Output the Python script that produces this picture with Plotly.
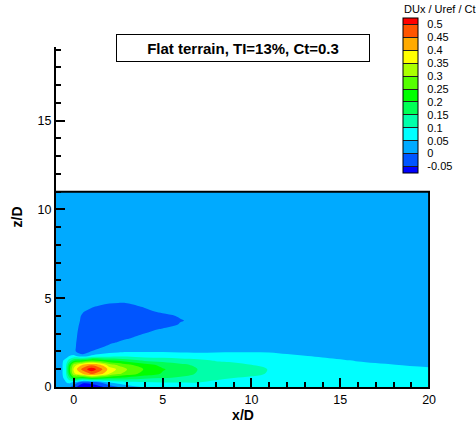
import numpy as np
import plotly.graph_objects as go

# ---- grid (x/D stations, z/D heights) ----
x_stations = [-1, -0.5, -0.25, 0, 0.5, 1, 1.5, 2, 2.5, 3, 4, 5, 6, 7, 8, 9, 10, 11, 12, 14, 16, 18, 20]
z_levels = [0, 0.25, 0.5, 0.75, 1.0, 1.25, 1.5, 1.75, 2.0, 2.25, 2.5, 2.75, 3.0,
            3.25, 3.5, 3.75, 4.0, 4.25, 4.5, 4.75, 5.0, 5.5, 7.0, 11.0]

# ---- DUx/Uref/Ct vertical profiles, one per x station ----
p_xm100 = [0.02, 0.02, 0.025, 0.03, 0.03, 0.03, 0.025, 0.02, 0.015, 0.015, 0.015, 0.015,
           0.015, 0.015, 0.015, 0.015, 0.015, 0.015, 0.015, 0.015, 0.015, 0.015, 0.015, 0.015]
p_xm050 = [0.02, 0.045, 0.055, 0.057, 0.057, 0.057, 0.055, 0.035, 0.015, 0.015, 0.015, 0.015,
           0.015, 0.015, 0.015, 0.015, 0.015, 0.015, 0.015, 0.015, 0.015, 0.015, 0.015, 0.015]
p_xm025 = [0.01, 0.06, 0.14, 0.21, 0.23, 0.2, 0.12, 0.05, 0.015, 0.015, 0.015, 0.015,
           0.015, 0.015, 0.015, 0.015, 0.015, 0.015, 0.015, 0.015, 0.015, 0.015, 0.015, 0.015]
p_x000 = [-0.03, 0.04, 0.22, 0.34, 0.36, 0.32, 0.18, 0.06, 0.012, 0.012, 0.012, 0.012,
          0.012, 0.012, 0.012, 0.012, 0.012, 0.013, 0.014, 0.015, 0.015, 0.015, 0.015, 0.015]
p_x050 = [-0.09, -0.04, 0.2, 0.4, 0.47, 0.4, 0.2, 0.025, -0.038, -0.038, -0.031, -0.023,
          -0.018, -0.013, -0.0087, -0.0051, -0.003, 0.002, 0.01, 0.012, 0.014, 0.015, 0.015, 0.015]
p_x100 = [-0.09, -0.03, 0.24, 0.46, 0.53, 0.44, 0.24, 0.06, 0.004, -0.03, -0.03, -0.028,
          -0.025, -0.022, -0.02, -0.017, -0.012, -0.008, 0.002, 0.01, 0.013, 0.015, 0.015, 0.015]
p_x150 = [-0.06, 0.0, 0.22, 0.42, 0.47, 0.4, 0.22, 0.075, 0.02, -0.005, -0.025, -0.028,
          -0.028, -0.028, -0.026, -0.024, -0.02, -0.015, -0.006, 0.009, 0.013, 0.015, 0.015, 0.015]
p_x200 = [-0.03, 0.05, 0.2, 0.35, 0.38, 0.32, 0.2, 0.08, 0.035, 0.01, -0.007, -0.025,
          -0.03, -0.03, -0.03, -0.03, -0.028, -0.024, -0.015, 0.004, 0.012, 0.015, 0.015, 0.015]
p_x250 = [0.0, 0.07, 0.19, 0.31, 0.34, 0.29, 0.19, 0.085, 0.04, 0.02, 0.003, -0.012,
          -0.025, -0.028, -0.028, -0.028, -0.028, -0.026, -0.02, 0.001, 0.012, 0.015, 0.015, 0.015]
p_x300 = [0.03, 0.08, 0.18, 0.28, 0.30, 0.26, 0.17, 0.09, 0.045, 0.025, 0.012, -0.003,
          -0.02, -0.025, -0.025, -0.025, -0.025, -0.022, -0.015, 0.002, 0.012, 0.015, 0.015, 0.015]
p_x400 = [0.055, 0.09, 0.16, 0.23, 0.245, 0.22, 0.14, 0.08, 0.045, 0.03, 0.02, 0.012,
          0.001, -0.015, -0.02, -0.02, -0.018, -0.01, 0.0025, 0.01, 0.013, 0.015, 0.015, 0.015]
p_x500 = [0.065, 0.1, 0.15, 0.195, 0.205, 0.185, 0.13, 0.08, 0.045, 0.03, 0.022, 0.017,
          0.012, 0.005, -0.02, -0.02, -0.012, 0.008, 0.012, 0.014, 0.015, 0.015, 0.015, 0.015]
p_x600 = [0.07, 0.1, 0.14, 0.17, 0.175, 0.16, 0.12, 0.075, 0.042, 0.028, 0.02, 0.016,
          0.013, 0.01, 0.004, -0.003, 0.0045, 0.01, 0.013, 0.015, 0.015, 0.015, 0.015, 0.015]
p_x700 = [0.072, 0.1, 0.13, 0.145, 0.149, 0.14, 0.11, 0.072, 0.042, 0.028, 0.02, 0.017,
          0.015, 0.014, 0.013, 0.012, 0.013, 0.014, 0.015, 0.015, 0.015, 0.015, 0.015, 0.015]
p_x800 = [0.08, 0.092, 0.108, 0.128, 0.132, 0.122, 0.095, 0.07, 0.045, 0.028, 0.02, 0.015,
          0.015, 0.015, 0.015, 0.015, 0.015, 0.015, 0.015, 0.015, 0.015, 0.015, 0.015, 0.015]
p_x900 = [0.08, 0.088, 0.1, 0.115, 0.12, 0.112, 0.09, 0.068, 0.046, 0.03, 0.02, 0.015,
          0.015, 0.015, 0.015, 0.015, 0.015, 0.015, 0.015, 0.015, 0.015, 0.015, 0.015, 0.015]
p_x1000 = [0.078, 0.085, 0.096, 0.106, 0.108, 0.1, 0.086, 0.066, 0.047, 0.03, 0.02, 0.015,
           0.015, 0.015, 0.015, 0.015, 0.015, 0.015, 0.015, 0.015, 0.015, 0.015, 0.015, 0.015]
p_x1100 = [0.077, 0.082, 0.09, 0.098, 0.099, 0.093, 0.082, 0.064, 0.046, 0.03, 0.02, 0.015,
           0.015, 0.015, 0.015, 0.015, 0.015, 0.015, 0.015, 0.015, 0.015, 0.015, 0.015, 0.015]
p_x1200 = [0.076, 0.08, 0.086, 0.09, 0.09, 0.086, 0.076, 0.057, 0.04, 0.028, 0.02, 0.015,
           0.015, 0.015, 0.015, 0.015, 0.015, 0.015, 0.015, 0.015, 0.015, 0.015, 0.015, 0.015]
p_x1400 = [0.072, 0.074, 0.076, 0.077, 0.076, 0.072, 0.06, 0.045, 0.032, 0.022, 0.017, 0.015,
           0.015, 0.015, 0.015, 0.015, 0.015, 0.015, 0.015, 0.015, 0.015, 0.015, 0.015, 0.015]
p_x1600 = [0.068, 0.069, 0.069, 0.068, 0.065, 0.058, 0.047, 0.036, 0.027, 0.02, 0.017, 0.015,
           0.015, 0.015, 0.015, 0.015, 0.015, 0.015, 0.015, 0.015, 0.015, 0.015, 0.015, 0.015]
p_x1800 = [0.064, 0.064, 0.063, 0.061, 0.056, 0.0505, 0.041, 0.032, 0.025, 0.02, 0.017, 0.015,
           0.015, 0.015, 0.015, 0.015, 0.015, 0.015, 0.015, 0.015, 0.015, 0.015, 0.015, 0.015]
p_x2000 = [0.06, 0.06, 0.059, 0.057, 0.053, 0.046, 0.038, 0.03, 0.024, 0.02, 0.017, 0.015,
           0.015, 0.015, 0.015, 0.015, 0.015, 0.015, 0.015, 0.015, 0.015, 0.015, 0.015, 0.015]

profiles = [p_xm100, p_xm050, p_xm025, p_x000, p_x050, p_x100, p_x150, p_x200, p_x250,
            p_x300, p_x400, p_x500, p_x600, p_x700, p_x800, p_x900, p_x1000, p_x1100,
            p_x1200, p_x1400, p_x1600, p_x1800, p_x2000]

# ---- contour levels / legend labels ----
level_vals = [-0.05, 0, 0.05, 0.1, 0.15, 0.2, 0.25, 0.3, 0.35, 0.4, 0.45, 0.5]
level_text = ["-0.05", "0", "0.05", "0.1", "0.15", "0.2", "0.25", "0.3", "0.35", "0.4", "0.45", "0.5"]

x_ticks = [0, 5, 10, 15, 20]
z_ticks = [0, 5, 10, 15]

title_text = "Flat terrain, TI=13%, Ct=0.3"
legend_title = "DUx / Uref / Ct"

dux = np.array(profiles).T  # rows = z, columns = x

rainbow = [[0.0, "rgb(0,0,255)"], [0.25, "rgb(0,255,255)"], [0.5, "rgb(0,255,0)"],
           [0.75, "rgb(255,255,0)"], [1.0, "rgb(255,0,0)"]]

FONT = "Liberation Sans, Arial, sans-serif"
step = level_vals[1] - level_vals[0]

L, R, T, B = 56, 46, 47, 36
W, H = 476, 423
pw, ph = W - L - R, H - T - B


def px_x(p):
    return (p - L) / pw


def px_y(p):
    return (H - B - p) / ph


NB = "\u00a0\u00a0"  # small gap between colour boxes and their labels

fig = go.Figure()
fig.add_trace(go.Contour(
    x=x_stations, y=z_levels, z=dux,
    autocontour=False,
    zmin=level_vals[0] - step / 2, zmax=level_vals[-1] + step / 2,
    contours=dict(start=level_vals[0], end=level_vals[-1], size=step,
                  coloring="fill", showlines=False),
    line=dict(width=0),
    colorscale=rainbow,
    hoverinfo="skip",
    colorbar=dict(
        x=px_x(402.5), xanchor="left",
        y=px_y(18.0), yanchor="top",
        lenmode="pixels", len=155,
        thicknessmode="pixels", thickness=15,
        xpad=0, ypad=0,
        outlinewidth=1, outlinecolor="black",
        tickmode="array", tickvals=level_vals, ticktext=[NB + t for t in level_text],
        ticks="inside", ticklen=15, tickwidth=1, tickcolor="rgb(30,30,30)",
        tickfont=dict(family=FONT, size=11, color="black"),
    ),
))

# domain frame (top and right edges of the computational box)
fig.add_trace(go.Scatter(
    x=[x_stations[0], x_stations[-1], x_stations[-1]],
    y=[z_levels[-1], z_levels[-1], z_levels[0]],
    mode="lines", line=dict(color="black", width=2),
    hoverinfo="skip", showlegend=False,
))

fig.update_layout(
    width=W, height=H,
    margin=dict(l=L, r=R, t=T, b=B, pad=0, autoexpand=False),
    paper_bgcolor="white", plot_bgcolor="white",
    font=dict(family=FONT, color="black"),
    showlegend=False,
    xaxis=dict(
        range=[-1, 20.05], tickmode="array", tickvals=x_ticks,
        ticks="inside", ticklen=9, tickwidth=2, tickcolor="black",
        minor=dict(tickmode="linear", tick0=0, dtick=1, ticks="inside", ticklen=5,
                   tickwidth=1.5, tickcolor="black", showgrid=False),
        showline=True, linewidth=2, linecolor="black", mirror=False,
        showgrid=False, zeroline=False,
        tickfont=dict(family=FONT, size=12.5, color="black"),
        title=dict(text="<b>x/D</b>", font=dict(family=FONT, size=14, color="black"), standoff=4),
    ),
    yaxis=dict(
        range=[0, 19.15], tickmode="array", tickvals=z_ticks,
        ticks="inside", ticklen=9, tickwidth=2, tickcolor="black",
        minor=dict(tickmode="linear", tick0=0, dtick=1, ticks="inside", ticklen=5,
                   tickwidth=1.5, tickcolor="black", showgrid=False),
        showline=True, linewidth=2, linecolor="black", mirror=False,
        showgrid=False, zeroline=False,
        tickfont=dict(family=FONT, size=12.5, color="black"),
        title=dict(text="<b>z/D</b>", font=dict(family=FONT, size=14, color="black"), standoff=12),
    ),
    annotations=[
        dict(text="<b>" + title_text + "</b>", xref="paper", yref="paper",
             x=px_x(242.5), y=px_y(48), xanchor="center", yanchor="middle",
             showarrow=False, font=dict(family=FONT, size=15, color="black"),
             bordercolor="black", borderwidth=1, borderpad=3, bgcolor="white",
             width=246, height=20),
        dict(text=legend_title, xref="paper", yref="paper",
             x=px_x(439.5), y=px_y(9), xanchor="center", yanchor="middle",
             showarrow=False, font=dict(family=FONT, size=11, color="black")),
    ],
)

fig.write_html("out.html", config={"displayModeBar": False},
               post_script="document.body.style.margin='0px';")
